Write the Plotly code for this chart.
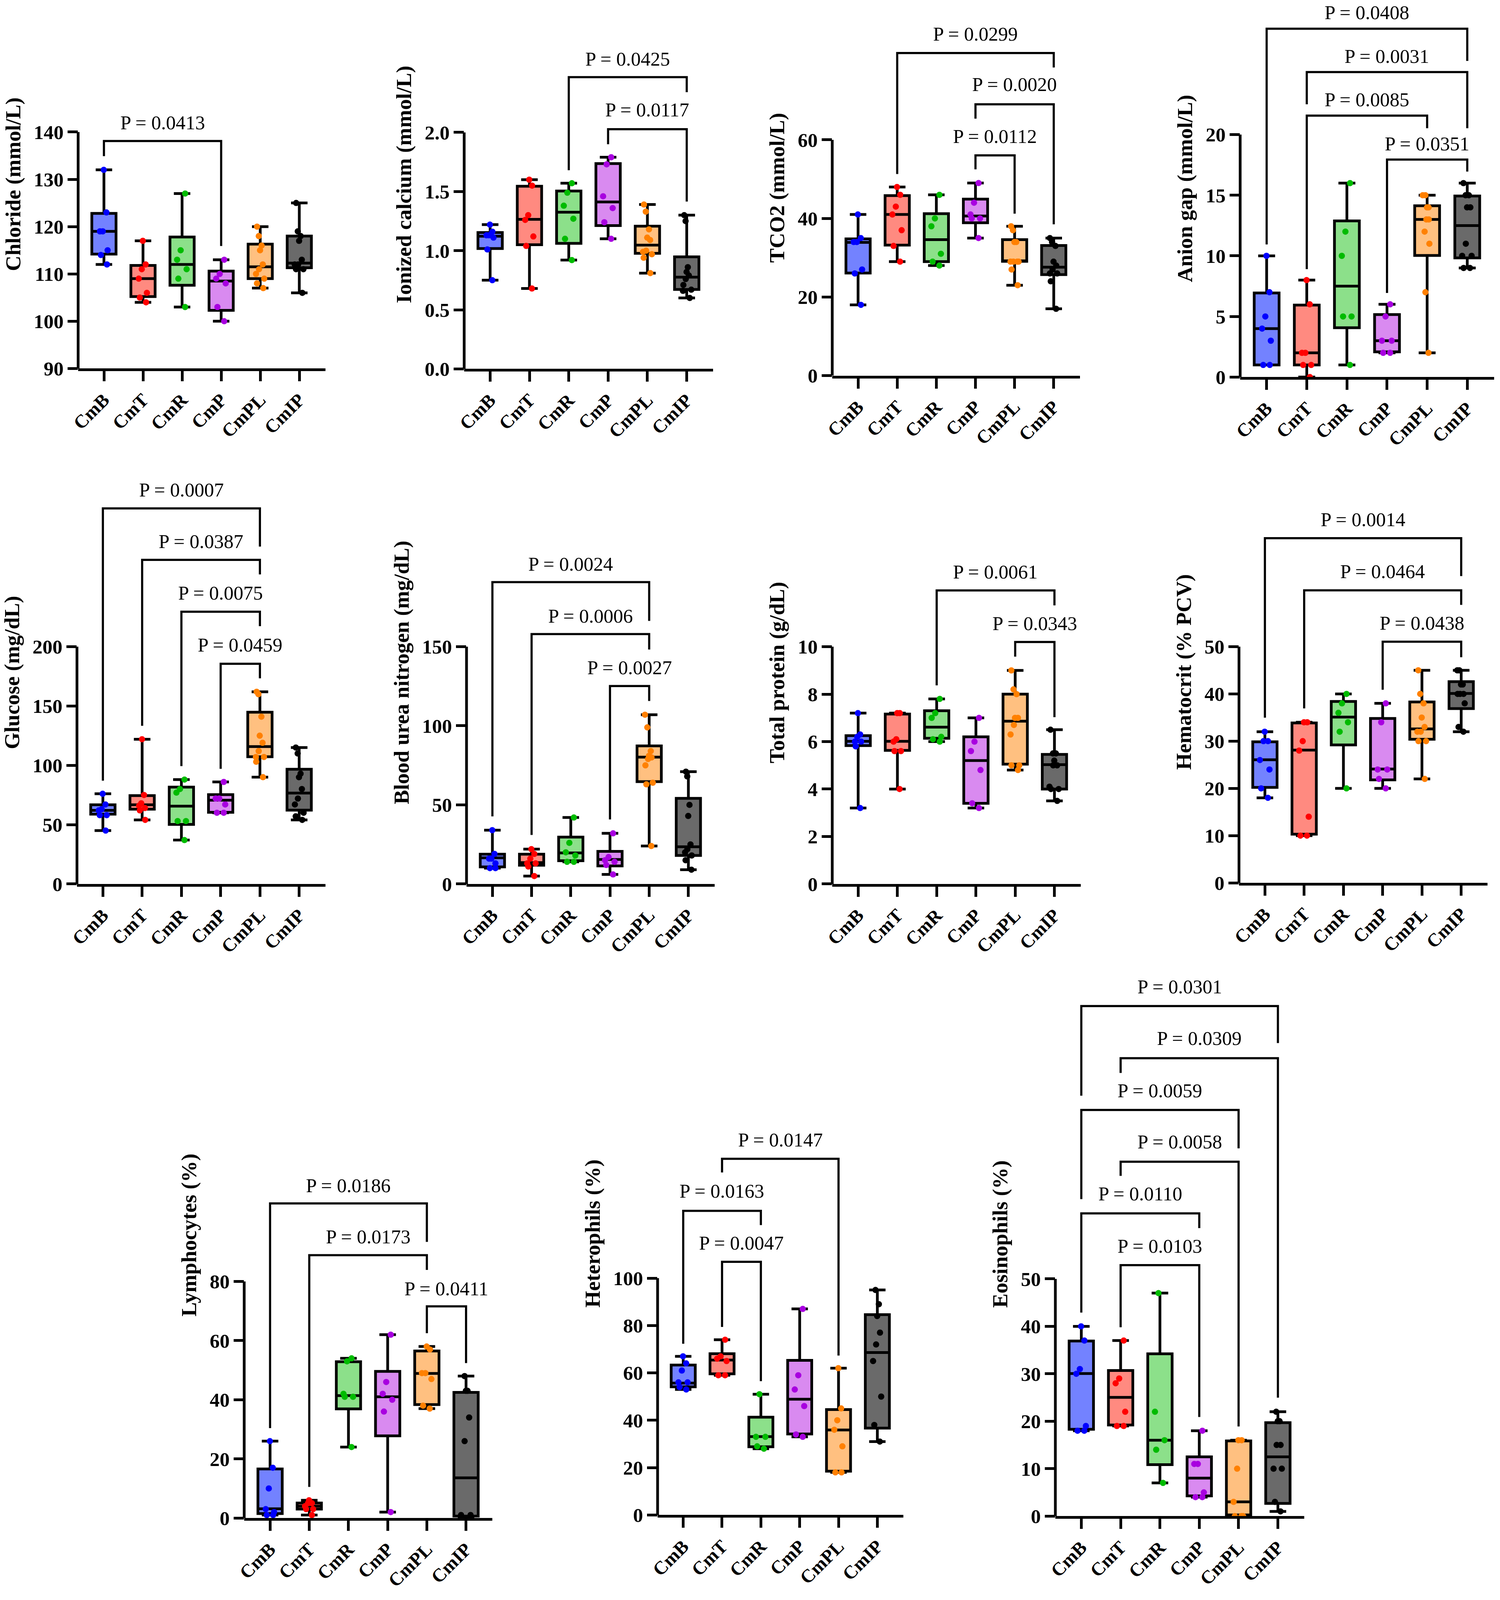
import plotly.graph_objects as go

W = 3839
H_REF = 4261          # reference layout height used for the panel grid
S = 0.952             # vertical scale of the grid so everything fits the visible page
H = 4090              # rendered figure height
FONT = "Liberation Serif"

GROUPS = ["CmB", "CmT", "CmR", "CmP", "CmPL", "CmIP"]
POINT_COLORS = ["#0000FF", "#FF0000", "#00BB00", "#A800E0", "#FF8000", "#000000"]
FILL_COLORS = ["#7382FF", "#FF8A80", "#8CE08A", "#D98AF0", "#FFC080", "#6A6A6A"]

# ---------------- Chloride ----------------
chloride_pts = [[132, 123, 119, 119, 115, 114, 112], [117, 112, 111, 109, 106, 105, 104],
                [127, 115, 113, 111, 109, 103], [113, 110, 109, 108, 103, 100],
                [120, 118, 116, 115, 112, 111, 110, 109, 108, 107],
                [125, 119, 118, 117, 113, 112, 112, 111, 111, 106]]
chloride_q1 = [114.2, 105.2, 107.6, 102.3, 109.0, 111.3]
chloride_med = [119, 109, 112, 108.5, 111.5, 112.3]
chloride_q3 = [122.8, 111.8, 117.8, 110.6, 116.3, 118.0]
chloride_lo = [112, 104, 103, 100, 107, 106]
chloride_hi = [132, 117, 127, 113, 120, 125]
chloride_br = [(0, 3, 138.1, 134.9, 115.9, 142.0, "P = 0.0413")]

# ---------------- Ionized calcium ----------------
calcium_pts = [[1.22, 1.16, 1.13, 1.13, 1.11, 1.01, 0.75], [1.60, 1.55, 1.30, 1.26, 1.12, 1.04, 0.68],
               [1.57, 1.49, 1.38, 1.27, 1.10, 0.92], [1.79, 1.73, 1.46, 1.36, 1.24, 1.10],
               [1.39, 1.33, 1.18, 1.11, 1.09, 1.00, 0.99, 0.97, 0.94, 0.81],
               [1.30, 1.25, 0.86, 0.82, 0.79, 0.76, 0.71, 0.67, 0.66, 0.60]]
calcium_q1 = [1.018, 1.05, 1.062, 1.212, 0.977, 0.672]
calcium_med = [1.122, 1.265, 1.325, 1.412, 1.047, 0.776]
calcium_q3 = [1.153, 1.545, 1.504, 1.736, 1.207, 0.948]
calcium_lo = [0.75, 0.68, 0.92, 1.10, 0.81, 0.60]
calcium_hi = [1.22, 1.60, 1.57, 1.79, 1.39, 1.30]
calcium_br = [(2, 5, 2.467, 1.68, 2.34, 2.62, "P = 0.0425"),
              (3, 5, 2.027, 1.90, 1.415, 2.19, "P = 0.0117")]

# ---------------- TCO2 ----------------
tco2_pts = [[41, 35, 34, 34, 27, 26, 18], [48, 46, 43, 41, 37, 33, 29], [46, 40, 38, 31, 29, 28],
            [49, 44, 41, 40, 40, 35], [38, 37, 34, 34, 29, 29, 29, 29, 27, 23],
            [35, 34, 33, 29, 28, 27, 26, 26, 24, 17]]
tco2_q1 = [26.1, 33.2, 29.0, 38.9, 29.07, 25.7]
tco2_med = [33.9, 41.0, 34.6, 40.6, 29.2, 27.6]
tco2_q3 = [34.8, 45.8, 41.2, 44.9, 34.6, 33.1]
tco2_lo = [18, 29, 28, 35, 23, 17]
tco2_hi = [41, 48, 46, 49, 38, 35]
tco2_br = [(1, 5, 82.1, 51.3, 78.4, 86.9, "P = 0.0299"),
           (3, 5, 69.05, 65.4, 38.5, 74.1, "P = 0.0020"),
           (3, 4, 56.05, 52.5, 41.2, 60.9, "P = 0.0112")]

# ---------------- Anion gap ----------------
anion_pts = [[10, 7, 5, 4, 3, 1, 1], [8, 6, 2, 2, 1, 1, 0], [16, 12, 10, 5, 5, 1], [6, 5, 3, 3, 2, 2],
             [15, 15, 14, 14, 13, 13, 12, 11, 7, 2], [16, 15, 15, 14, 14, 11, 10, 10, 9, 9]]
anion_q1 = [1.0, 1.0, 4.07, 2.08, 10.03, 9.83]
anion_med = [4.0, 2.0, 7.5, 3.0, 13.0, 12.5]
anion_q3 = [6.94, 5.94, 12.88, 5.16, 14.13, 14.94]
anion_lo = [1, 0, 1, 2, 2, 9]
anion_hi = [10, 8, 16, 6, 15, 16]
anion_br = [(0, 5, 28.74, 10.94, 26.08, 30.08, "P = 0.0408"),
            (1, 5, 25.16, 22.5, 20.53, 26.47, "P = 0.0031"),
            (1, 4, 21.57, 8.9, 20.53, 22.89, "P = 0.0085"),
            (3, 5, 17.94, 6.94, 16.95, 19.26, "P = 0.0351")]

# ---------------- Glucose ----------------
glucose_pts = [[76, 67, 63, 62, 58, 58, 45], [122, 75, 68, 66, 64, 62, 54], [88, 80, 77, 53, 53, 37],
               [86, 72, 72, 67, 60, 60], [162, 160, 141, 125, 119, 112, 107, 107, 103, 90],
               [115, 110, 93, 90, 80, 72, 67, 60, 57, 54]]
glucose_q1 = [58.8, 63.0, 50.2, 60.4, 107.2, 62.2]
glucose_med = [62, 66.7, 65.6, 70.6, 115.8, 76.6]
glucose_q3 = [66.7, 74.5, 81.6, 75.3, 144.8, 96.7]
glucose_lo = [45, 54, 37, 60, 90, 54]
glucose_hi = [76, 122, 88, 86, 162, 115]
glucose_br = [(0, 4, 316.6, 87.1, 284.4, 332.3, "P = 0.0007"),
              (1, 4, 273.2, 133.3, 260.9, 288.9, "P = 0.0387"),
              (2, 4, 229.5, 99.3, 217.3, 245.2, "P = 0.0075"),
              (3, 4, 185.6, 97.0, 173.3, 201.6, "P = 0.0459")]

# ---------------- Blood urea nitrogen ----------------
bun_pts = [[34, 19, 16, 16, 13, 10, 10], [22, 19, 16, 13, 13, 11, 5], [42, 26, 20, 18, 14, 14],
           [32, 17, 15, 14, 12, 6], [107, 99, 84, 81, 80, 79, 75, 64, 63, 24],
           [71, 68, 50, 43, 25, 22, 20, 18, 15, 9]]
bun_q1 = [10.8, 11.8, 14.7, 11.4, 64.7, 18.0]
bun_med = [16.5, 13.5, 19.6, 15.5, 80.2, 23.5]
bun_q3 = [18.8, 18.8, 29.6, 20.6, 87.3, 54.1]
bun_lo = [10, 5, 14, 6, 24, 9]
bun_hi = [34, 22, 42, 32, 107, 71]
bun_br = [(0, 4, 190.8, 42.7, 166.3, 202.2, "P = 0.0024"),
          (1, 4, 158.0, 31.0, 148.2, 169.4, "P = 0.0006"),
          (3, 4, 125.1, 40.8, 115.7, 136.9, "P = 0.0027")]

# ---------------- Total protein ----------------
protein_pts = [[7.2, 6.3, 6.2, 6.0, 6.0, 5.8, 3.2], [7.2, 7.2, 6.1, 6.0, 5.6, 5.6, 4.0],
               [7.8, 7.2, 7.0, 6.2, 6.1, 6.0], [7.0, 6.0, 5.6, 4.8, 3.4, 3.2],
               [9.0, 8.2, 8.0, 7.0, 7.0, 6.7, 6.3, 5.0, 5.0, 4.8],
               [6.5, 5.5, 5.5, 5.2, 5.0, 5.0, 4.1, 4.0, 4.0, 3.5]]
protein_q1 = [5.83, 5.63, 6.14, 3.4, 5.05, 4.0]
protein_med = [6.01, 6.01, 6.61, 5.2, 6.86, 5.03]
protein_q3 = [6.25, 7.16, 7.3, 6.2, 8.0, 5.46]
protein_lo = [3.2, 4.0, 6.0, 3.2, 4.8, 3.5]
protein_hi = [7.2, 7.2, 7.8, 7.0, 9.0, 6.5]
protein_br = [(2, 5, 12.37, 8.37, 11.74, 13.15, "P = 0.0061"),
              (4, 5, 10.2, 9.58, 7.03, 10.98, "P = 0.0343")]

# ---------------- Hematocrit ----------------
hct_pts = [[32, 30, 30, 26, 24, 20, 18], [34, 34, 30, 28, 14, 10, 10], [40, 38, 36, 34, 32, 20],
           [38, 34, 24, 24, 22, 20], [45, 40, 38, 35, 33, 32, 32, 30, 30, 22],
           [45, 45, 42, 42, 40, 40, 40, 38, 33, 32]]
hct_q1 = [20.2, 10.3, 29.2, 21.8, 30.4, 36.9]
hct_med = [26.05, 28.1, 35.1, 24.1, 32.6, 40.1]
hct_q3 = [29.86, 33.86, 38.4, 34.8, 38.3, 42.6]
hct_lo = [18, 10, 20, 20, 22, 32]
hct_hi = [32, 34, 40, 38, 45, 45]
hct_br = [(0, 5, 72.97, 34.97, 64.96, 76.9, "P = 0.0014"),
          (1, 5, 61.94, 36.94, 58.86, 65.94, "P = 0.0464"),
          (3, 5, 51.05, 40.88, 47.77, 55.0, "P = 0.0438")]

# ---------------- Lymphocytes ----------------
lym_pts = [[26, 17, 10, 3, 2, 1, 1], [6, 5, 5, 4, 3, 3, 1], [54, 53, 42, 41, 41, 24],
           [62, 46, 42, 40, 36, 2], [58, 57, 49, 49, 47, 38, 37], [48, 43, 43, 34, 26, 1, 1, 0, 0]]
lym_q1 = [1.5, 3.0, 36.9, 27.8, 38.35, 0.65]
lym_med = [3.1, 4.0, 41.4, 41.0, 48.9, 13.6]
lym_q3 = [16.6, 5.05, 52.85, 49.6, 56.5, 42.5]
lym_lo = [1, 1, 24, 2, 37, 0]
lym_hi = [26, 6, 54, 62, 58, 48]
lym_br = [(0, 4, 106.4, 30.4, 93.4, 112.5, "P = 0.0186"),
          (1, 4, 88.9, 10.5, 83.9, 95.1, "P = 0.0173"),
          (4, 5, 71.6, 62.5, 52.4, 77.6, "P = 0.0411")]

# ---------------- Heterophils ----------------
het_pts = [[67, 64, 61, 56, 56, 54, 53], [74, 67, 66, 65, 59, 59], [51, 33, 33, 29, 28],
           [87, 59, 53, 46, 34, 33], [62, 45, 40, 36, 29, 18, 18], [95, 89, 84, 77, 72, 65, 50, 38, 31]]
het_q1 = [54.1, 59.6, 28.8, 34.2, 18.5, 36.7]
het_med = [55.7, 65.4, 33.1, 48.9, 35.9, 68.6]
het_q3 = [63.3, 68.1, 41.3, 65.3, 44.5, 84.6]
het_lo = [53, 59, 28, 33, 18, 31]
het_hi = [67, 74, 51, 87, 62, 95]
het_br = [(1, 4, 150.4, 144.6, 67.3, 158.4, "P = 0.0147"),
          (0, 2, 128.4, 72.3, 122.4, 136.7, "P = 0.0163"),
          (1, 2, 106.9, 79.4, 56.5, 114.9, "P = 0.0047")]

# ---------------- Eosinophils ----------------
eos_pts = [[40, 37, 31, 30, 19, 18, 18], [37, 29, 28, 22, 19, 19], [47, 22, 16, 14, 7],
           [18, 11, 11, 5, 4, 4], [16, 16, 10, 3, 0, 0, 0], [22, 20, 20, 15, 15, 10, 10, 3, 1]]
eos_q1 = [18.3, 19.2, 10.85, 4.26, 0.25, 2.67]
eos_med = [30.05, 25.04, 16.0, 8.0, 3.0, 12.5]
eos_q3 = [36.9, 30.7, 34.2, 12.5, 15.86, 19.7]
eos_lo = [18, 19, 7, 4, 0, 1]
eos_hi = [40, 37, 47, 18, 16, 22]
eos_br = [(0, 5, 107.5, 88.6, 99.7, 111.6, "P = 0.0301"),
          (1, 5, 96.5, 93.4, 24.96, 100.7, "P = 0.0309"),
          (0, 4, 85.6, 66.8, 77.5, 89.7, "P = 0.0059"),
          (1, 4, 74.7, 71.7, 18.9, 78.9, "P = 0.0058"),
          (0, 3, 63.8, 42.9, 60.7, 67.9, "P = 0.0110"),
          (1, 3, 52.9, 39.8, 20.9, 56.9, "P = 0.0103")]

# axis titles and tick settings: (title, ymin, ymax, dtick, decimals)
AXES = [
    ("Chloride (mmol/L)", 90, 140, 10, 0),
    ("Ionized calcium (mmol/L)", 0, 2.0, 0.5, 1),
    ("TCO2 (mmol/L)", 0, 60, 20, 0),
    ("Anion gap (mmol/L)", 0, 20, 5, 0),
    ("Glucose (mg/dL)", 0, 200, 50, 0),
    ("Blood urea nitrogen (mg/dL)", 0, 150, 50, 0),
    ("Total protein (g/dL)", 0, 10, 2, 0),
    ("Hematocrit (% PCV)", 0, 50, 10, 0),
    ("Lymphocytes (%)", 0, 80, 20, 0),
    ("Heterophils (%)", 0, 100, 20, 0),
    ("Eosinophils (%)", 0, 50, 10, 0),
]
DATA = [
    (chloride_pts, chloride_q1, chloride_med, chloride_q3, chloride_lo, chloride_hi, chloride_br),
    (calcium_pts, calcium_q1, calcium_med, calcium_q3, calcium_lo, calcium_hi, calcium_br),
    (tco2_pts, tco2_q1, tco2_med, tco2_q3, tco2_lo, tco2_hi, tco2_br),
    (anion_pts, anion_q1, anion_med, anion_q3, anion_lo, anion_hi, anion_br),
    (glucose_pts, glucose_q1, glucose_med, glucose_q3, glucose_lo, glucose_hi, glucose_br),
    (bun_pts, bun_q1, bun_med, bun_q3, bun_lo, bun_hi, bun_br),
    (protein_pts, protein_q1, protein_med, protein_q3, protein_lo, protein_hi, protein_br),
    (hct_pts, hct_q1, hct_med, hct_q3, hct_lo, hct_hi, hct_br),
    (lym_pts, lym_q1, lym_med, lym_q3, lym_lo, lym_hi, lym_br),
    (het_pts, het_q1, het_med, het_q3, het_lo, het_hi, het_br),
    (eos_pts, eos_q1, eos_med, eos_q3, eos_lo, eos_hi, eos_br),
]

# panel geometry in reference pixels: (axis left, axis right, bottom (ymin), top tick (ymax), panel top)
GEOM = [
    (200, 833, 991, 355, 0),
    (1188, 1825, 992, 356, 0),
    (2130, 2764, 1010, 376, 0),
    (3174, 3824, 1014, 362, 0),
    (197, 833, 2377, 1739, 1240),
    (1194, 1829, 2377, 1739, 1240),
    (2130, 2766, 2377, 1739, 1240),
    (3171, 3807, 2374, 1739, 1240),
    (625, 1260, 4082, 3446, 2560),
    (1683, 2312, 4074, 3437, 2560),
    (2701, 3338, 4077, 3439, 2560),
]
XRANGE = [-0.66, 5.67]
LW = 7

fig = go.Figure()
layout = {}
shapes = []
annotations = []

for k, ((title, ymin, ymax, dtick, dec), data, geom) in enumerate(zip(AXES, DATA, GEOM), start=1):
    pts, q1, med, q3, lo, hi, brackets = data
    X0, X1, Yb, Yt, Ytop = geom
    xa = "x" if k == 1 else f"x{k}"
    ya = "y" if k == 1 else f"y{k}"
    ppu = (Yb - Yt) / (ymax - ymin)
    top_val = ymin + (Yb - Ytop) / ppu

    for i, g in enumerate(GROUPS):
        fig.add_trace(go.Box(
            x=[i], q1=[q1[i]], median=[med[i]], q3=[q3[i]],
            lowerfence=[lo[i]], upperfence=[hi[i]],
            width=0.62, whiskerwidth=0.68, fillcolor=FILL_COLORS[i],
            line=dict(color="black", width=LW), boxpoints=False,
            xaxis=xa, yaxis=ya, showlegend=False, name=g))
        fig.add_trace(go.Box(
            x=[i] * len(pts[i]), y=pts[i], width=0.5, boxpoints="all", jitter=0.6,
            pointpos=0, fillcolor="rgba(0,0,0,0)", line=dict(color="rgba(0,0,0,0)", width=0),
            marker=dict(color=POINT_COLORS[i], size=16), xaxis=xa, yaxis=ya,
            showlegend=False, name=g))

    n = int(round((ymax - ymin) / dtick))
    tvals = [ymin + j * dtick for j in range(n + 1)]
    ttext = [f"{v:.{dec}f}" for v in tvals]

    layout["xaxis" if k == 1 else f"xaxis{k}"] = dict(
        domain=[X0 / W, X1 / W], anchor=ya, range=XRANGE,
        tickmode="array", tickvals=list(range(6)), ticktext=GROUPS, tickangle=-45,
        tickfont=dict(family=FONT, size=48, color="black", weight="bold"),
        ticks="outside", ticklen=26, tickwidth=LW, tickcolor="black",
        showline=True, linewidth=LW, linecolor="black",
        showgrid=False, zeroline=False, automargin=False, fixedrange=True)
    layout["yaxis" if k == 1 else f"yaxis{k}"] = dict(
        domain=[1 - Yb * S / H, 1 - Ytop * S / H], anchor=xa, range=[ymin, top_val],
        tickmode="array", tickvals=tvals, ticktext=ttext,
        tickfont=dict(family=FONT, size=51, color="black", weight="bold"),
        ticks="outside", ticklen=26, tickwidth=LW, tickcolor="black",
        showline=False, showgrid=False, zeroline=False, automargin=False, fixedrange=True,
        title=dict(text=title, standoff=16,
                   font=dict(family=FONT, size=55, color="black", weight="bold")))

    shapes.append(dict(type="line", xref=f"{xa} domain", yref=ya, x0=0, x1=0,
                       y0=ymin, y1=ymax, line=dict(color="black", width=LW)))

    for (gl, gr, top, yl, yr, ty, label) in brackets:
        shapes.append(dict(type="path", xref=xa, yref=ya,
                           path=f"M {gl},{yl} L {gl},{top} L {gr},{top} L {gr},{yr}",
                           line=dict(color="black", width=5.5)))
        annotations.append(dict(x=(gl + gr) / 2, y=ty, xref=xa, yref=ya, text=label,
                                showarrow=False, xanchor="center", yanchor="middle",
                                font=dict(family=FONT, size=50, color="black")))

fig.update_layout(
    width=W, height=H, margin=dict(l=0, r=0, t=0, b=0),
    paper_bgcolor="white", plot_bgcolor="white", boxmode="overlay",
    shapes=shapes, annotations=annotations, showlegend=False, **layout)

fig.write_html("out.html", config={"displayModeBar": False},
               post_script="document.body.style.margin='0px';")
